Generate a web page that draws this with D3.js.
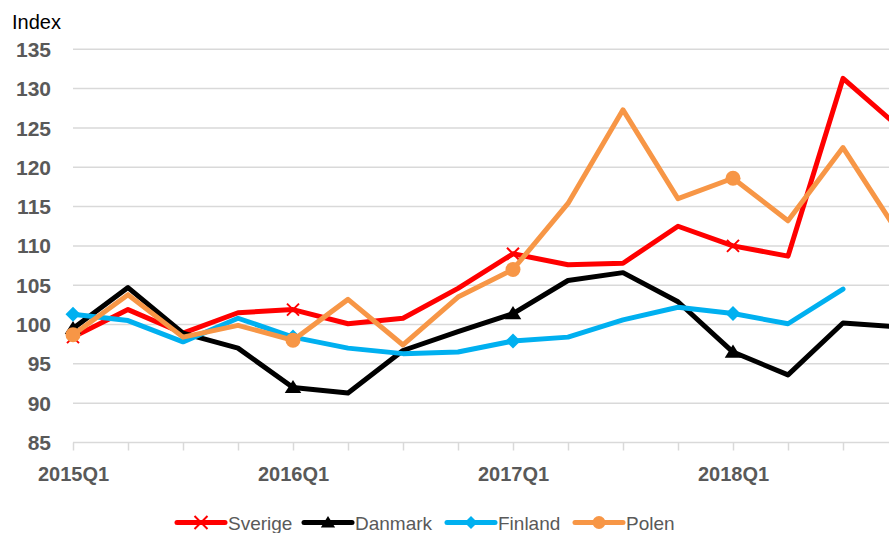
<!DOCTYPE html>
<html>
<head>
<meta charset="utf-8">
<script src="https://cdn.jsdelivr.net/npm/d3@7"></script>
<style>
  body { margin: 0; background: #fff; }
  svg { display: block; font-family: "Liberation Sans", Arial, sans-serif; }
</style>
</head>
<body>
<svg id="chart" width="889" height="533"></svg>
<script>
// quarters shown on the category axis
var quarters = ["2015Q1","2015Q2","2015Q3","2015Q4",
                "2016Q1","2016Q2","2016Q3","2016Q4",
                "2017Q1","2017Q2","2017Q3","2017Q4",
                "2018Q1","2018Q2","2018Q3","2018Q4"];

var yTicks = [85, 90, 95, 100, 105, 110, 115, 120, 125, 130, 135];

var sverige = [98.4, 101.9, 98.9, 101.5, 101.9, 100.1, 100.8, 104.6,
               109.0, 107.6, 107.8, 112.5, 110.0, 108.7, 131.3, 125.2];
var danmark = [99.5, 104.7, 98.9, 97.0, 92.0, 91.3, 96.7, 99.1,
               101.4, 105.6, 106.6, 102.9, 96.5, 93.6, 100.2, 99.7];
var finland = [101.3, 100.5, 97.8, 100.8, 98.4, 97.0, 96.3, 96.5,
               97.9, 98.4, 100.6, 102.2, 101.4, 100.1, 104.5, null];
var polen   = [98.7, 103.8, 98.4, 99.9, 98.0, 103.2, 97.4, 103.5,
               107.0, 115.4, 127.3, 116.0, 118.6, 113.2, 122.5, 111.7];

var series = [
  { name: "Sverige", values: sverige, color: "#FF0000", marker: "x" },
  { name: "Danmark", values: danmark, color: "#000000", marker: "triangle" },
  { name: "Finland", values: finland, color: "#00B0F0", marker: "diamond" },
  { name: "Polen",   values: polen,   color: "#F79646", marker: "circle" }
];

var svg = d3.select("#chart");
var textGray = "#595959", gridGray = "#D9D9D9";

var x = d3.scalePoint().domain(quarters).range([73, 898]).padding(0);
var y = d3.scaleLinear().domain([85, 135]).range([442.5, 49.3]);

// gridlines
svg.append("g").selectAll("line")
  .data(yTicks.slice(1))
  .enter().append("line")
    .attr("x1", 73).attr("x2", 889)
    .attr("y1", function(d) { return y(d); })
    .attr("y2", function(d) { return y(d); })
    .attr("stroke", gridGray).attr("stroke-width", 1.5);

// y labels
svg.append("g").selectAll("text")
  .data(yTicks)
  .enter().append("text")
    .attr("x", 51)
    .attr("y", function(d) { return y(d); })
    .attr("dy", "0.36em")
    .attr("text-anchor", "end")
    .attr("font-size", 21).attr("font-weight", "bold")
    .attr("fill", textGray)
    .text(function(d) { return d; });

svg.append("text")
  .attr("x", 12).attr("y", 29)
  .attr("font-size", 20).attr("fill", "#000")
  .text("Index");

// x axis
var xAxis = d3.axisBottom(x)
  .tickSizeInner(8).tickSizeOuter(0).tickPadding(16)
  .tickFormat(function(d) { return /Q1$/.test(d) ? d : ""; });

var gx = svg.append("g")
  .attr("transform", "translate(0," + y(85) + ")")
  .call(xAxis);
gx.select(".domain").attr("stroke", gridGray).attr("stroke-width", 1.5);
gx.selectAll(".tick line").attr("stroke", gridGray).attr("stroke-width", 1.5);
gx.selectAll(".tick text")
  .attr("font-size", 20).attr("font-weight", "bold")
  .attr("fill", textGray).attr("font-family", "Liberation Sans, Arial, sans-serif");
gx.select(".domain").attr("d", "M73,0H889");

function drawMarker(g, type, cx, cy, color, s) {
  if (type === "x") {
    g.append("path")
      .attr("d", "M" + (cx - s) + "," + (cy - s) + "L" + (cx + s) + "," + (cy + s) +
                 "M" + (cx - s) + "," + (cy + s) + "L" + (cx + s) + "," + (cy - s))
      .attr("stroke", color).attr("stroke-width", 2).attr("fill", "none");
  } else if (type === "triangle") {
    g.append("path")
      .attr("d", "M" + cx + "," + (cy - s * 1.0) + "L" + (cx + s * 1.1) + "," + (cy + s * 0.75) +
                 "L" + (cx - s * 1.1) + "," + (cy + s * 0.75) + "Z")
      .attr("fill", color);
  } else if (type === "diamond") {
    g.append("path")
      .attr("d", "M" + cx + "," + (cy - s) + "L" + (cx + s) + "," + cy +
                 "L" + cx + "," + (cy + s) + "L" + (cx - s) + "," + cy + "Z")
      .attr("fill", color);
  } else {
    g.append("circle").attr("cx", cx).attr("cy", cy).attr("r", s).attr("fill", color);
  }
}

var line = d3.line()
  .defined(function(d) { return d != null; })
  .x(function(d, i) { return x(quarters[i]); })
  .y(function(d) { return y(d); });

series.forEach(function(s) {
  var g = svg.append("g");
  g.append("path")
    .datum(s.values)
    .attr("d", line)
    .attr("fill", "none")
    .attr("stroke", s.color)
    .attr("stroke-width", 5)
    .attr("stroke-linejoin", "round")
    .attr("stroke-linecap", "round");
  s.values.forEach(function(v, i) {
    if (v == null || i % 4 !== 0) return;
    var size = s.marker === "circle" ? 7.5 : (s.marker === "x" ? 6 : 7.5);
    drawMarker(g, s.marker, x(quarters[i]), y(v), s.color, size);
  });
});

// legend
var legendX = [177, 304, 447, 575];
var legend = svg.append("g");
series.forEach(function(s, i) {
  var lx = legendX[i], ly = 522.5;
  legend.append("line")
    .attr("x1", lx).attr("x2", lx + 48)
    .attr("y1", ly).attr("y2", ly)
    .attr("stroke", s.color).attr("stroke-width", 5)
    .attr("stroke-linecap", "round");
  drawMarker(legend, s.marker, lx + 24, ly, s.color, s.marker === "circle" ? 6.5 : 6.5);
  legend.append("text")
    .attr("x", lx + 51).attr("y", 530)
    .attr("font-size", 19).attr("fill", textGray)
    .text(s.name);
});
</script>
</body>
</html>
